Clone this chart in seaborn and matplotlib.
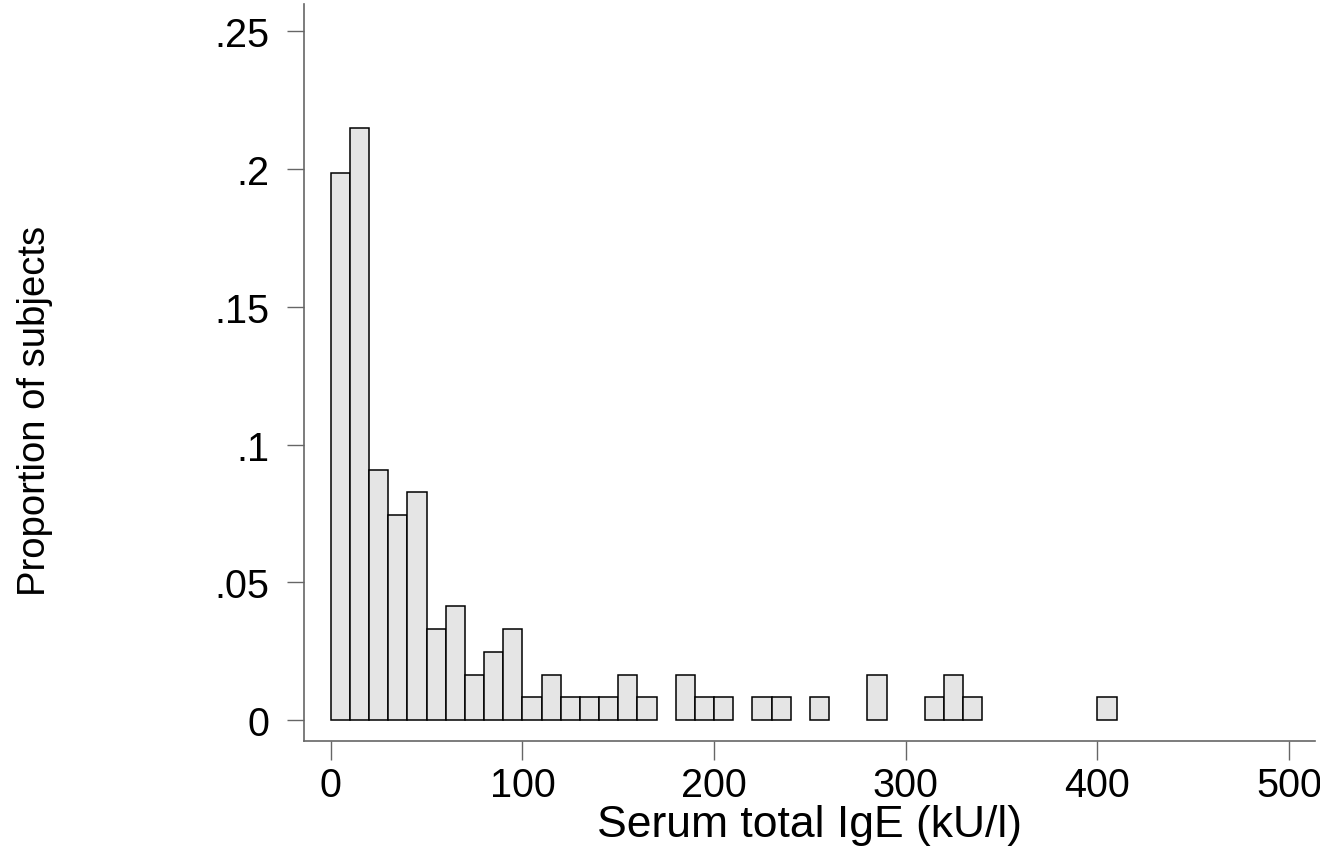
import numpy as np
import pandas as pd
import matplotlib.pyplot as plt
import seaborn as sns

# bin start (kU/l), bins are 10 wide; counts of subjects (n = 121)
bin_start = [0, 10, 20, 30, 40, 50, 60, 70, 80, 90, 100, 110, 120, 130, 140,
             150, 160, 180, 190, 200, 220, 230, 250, 280, 310, 320, 330, 400]
counts = [24, 26, 11, 9, 10, 4, 5, 2, 3, 4, 1, 2, 1, 1, 1,
          2, 1, 2, 1, 1, 1, 1, 1, 2, 1, 2, 1, 1]
y_ticks = [0, 0.05, 0.1, 0.15, 0.2, 0.25]
y_tick_labels = ['0', '.05', '.1', '.15', '.2', '.25']
x_ticks = [0, 100, 200, 300, 400, 500]


def visualize():
    df = pd.DataFrame({'ige': np.array(bin_start) + 5, 'n': counts})

    sns.set_style('white')
    plt.rcParams['font.family'] = ['Liberation Sans', 'DejaVu Sans']

    fig = plt.figure(figsize=(13.2, 8.53), dpi=100)
    ax = fig.add_axes([0.2303, 0.13, 0.766, 0.864])

    sns.histplot(data=df, x='ige', weights='n', binwidth=10, binrange=(0, 410),
                 stat='probability', color='#e5e5e5', edgecolor='black',
                 linewidth=1.1, alpha=1, ax=ax)

    # Stata does not draw empty bins
    for p in list(ax.patches):
        if p.get_height() == 0:
            p.remove()

    ax.set_xlim(-14, 513.6)
    ax.set_ylim(-0.0076, 0.2598)
    ax.set_xticks(x_ticks)
    ax.set_yticks(y_ticks)
    ax.set_yticklabels(y_tick_labels)
    ax.tick_params(axis='both', labelsize=28.5, width=1, color='#666666',
                   labelcolor='black', direction='out', left=True, bottom=True)
    ax.tick_params(axis='x', length=14, pad=4)
    ax.tick_params(axis='y', length=12, pad=13)

    for s in ['top', 'right']:
        ax.spines[s].set_visible(False)
    for s in ['left', 'bottom']:
        ax.spines[s].set_color('#666666')
        ax.spines[s].set_linewidth(1.2)

    ax.set_xlabel('Serum total IgE (kU/l)', fontsize=32, color='black', labelpad=0)
    ax.set_ylabel('Proportion of subjects', fontsize=27.5, color='black')
    ax.yaxis.set_label_coords(-0.248, 0.45)

    fig.savefig('out.png', dpi=100)


if __name__ == '__main__':
    visualize()
